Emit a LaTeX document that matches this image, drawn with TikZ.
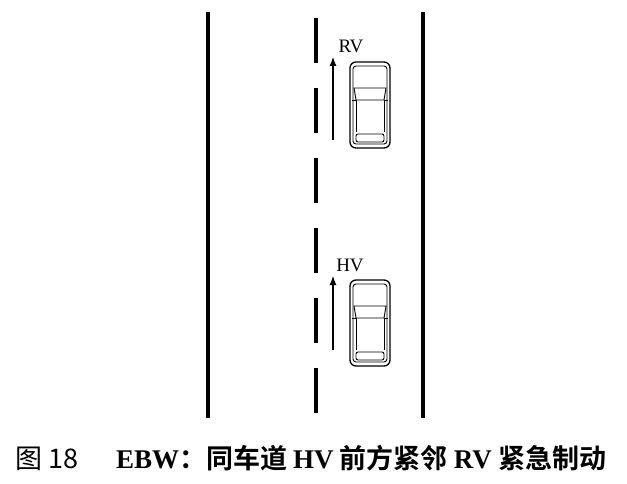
\documentclass[tikz,border=0pt]{standalone}
\usepackage{fontspec}
\setmainfont{Liberation Serif}
\newfontfamily\cjk{Noto Sans CJK SC}
\newfontfamily\cjkb{Noto Sans CJK SC}[BoldFont={* Bold}]
\begin{document}
\begin{tikzpicture}[x=1pt,y=-1pt,
  road/.style={line width=3.3pt},
  dashln/.style={line width=3.3pt},
  arr/.style={line width=1.1pt,-{Latex[length=9pt,width=7pt]}},
  lbl/.style={font=\fontsize{19}{19}\selectfont,inner sep=0pt}]
\usetikzlibrary{arrows.meta}
\useasboundingbox (0,0) rectangle (627,484);
\coordinate (la) at (208,12); \coordinate (lb) at (208,418);
\coordinate (ra) at (423,12); \coordinate (rb) at (423,418);
\draw[road] (la) -- (lb);
\draw[road] (ra) -- (rb);
\foreach \y in {18,88,158,228,298,368}
  \draw[dashln] (316,\y) -- (316,\y+45);
\newcommand\mycar[1]{
 \begin{scope}[yshift=#1]
  \draw[line width=1.3pt,rounded corners=6pt] (350,62) rectangle (390,148);
  \draw[line width=0.9pt,rounded corners=3pt] (353,66) rectangle (387,144);
  \draw[line width=0.9pt] (354,88) -- (386,88) -- (384,100) -- (356,100) -- cycle;
  \draw[line width=0.9pt] (356,100) -- (356,132) (384,100) -- (384,132);
  \draw[line width=0.9pt,rounded corners=2pt] (356,134) rectangle (384,142);
  \draw[line width=0.9pt] (352,100) -- (356,100) (384,100) -- (388,100);
 \end{scope}}
\mycar{0pt}
\mycar{-218pt}
\node[lbl] (rvl) at (351,46) {RV};
\node[lbl] (hvl) at (350,265) {HV};
\coordinate (r1) at (333,140); \coordinate (r2) at (333,57);
\coordinate (h1) at (333,350); \coordinate (h2) at (333,276);
\draw[arr] (r1) -- (r2);
\draw[arr] (h1) -- (h2);
\node[inner sep=0pt,anchor=west] (cap) at (15,458) {\fontsize{27}{27}\selectfont\cjk 图 18\hspace{1.4em}\textbf{\rmfamily EBW}\cjkb\bfseries：同车道 \textrm{HV} 前方紧邻 \textrm{RV} 紧急制动};
\end{tikzpicture}
\end{document}
